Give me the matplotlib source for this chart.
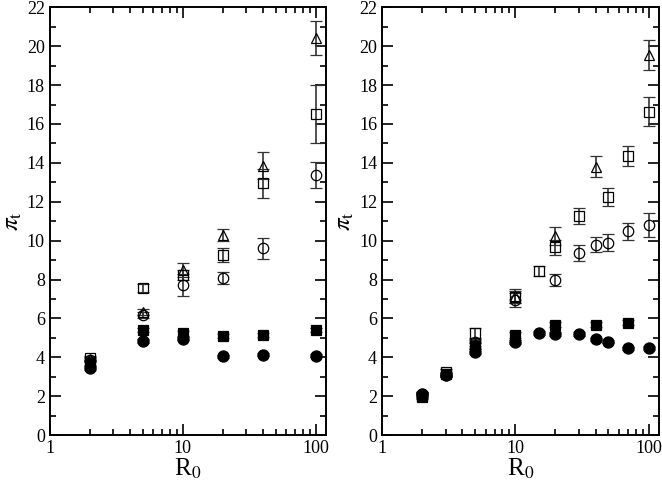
import numpy as np
import matplotlib.pyplot as plt
from matplotlib.ticker import LogLocator, MultipleLocator, NullFormatter

plt.rcParams['font.family'] = ['Liberation Serif', 'DejaVu Serif']
plt.rcParams['mathtext.fontset'] = 'stix'

# ---- left panel data ----
L_x_oc = [2, 5, 10, 20, 40, 100]
L_oc = [3.85, 6.2, 7.72, 8.08, 9.6, 13.37]
L_oc_err = [0.1, 0.15, 0.55, 0.33, 0.55, 0.65]
L_x_os = [2, 5, 10, 20, 40, 100]
L_os = [3.95, 7.55, 8.25, 9.25, 12.95, 16.52]
L_os_err = [0.1, 0.2, 0.25, 0.35, 0.75, 1.5]
L_x_ot = [2, 5, 10, 20, 40, 100]
L_ot = [3.9, 6.35, 8.5, 10.28, 13.85, 20.42]
L_ot_err = [0.1, 0.15, 0.35, 0.3, 0.7, 0.85]
L_x_fc = [2, 5, 10, 20, 40, 100]
L_fc = [3.45, 4.85, 4.97, 4.06, 4.13, 4.08]
L_fc_err = [0.1, 0.1, 0.1, 0.08, 0.08, 0.08]
L_x_fs = [2, 5, 10, 20, 40, 100]
L_fs = [3.7, 5.4, 5.23, 5.09, 5.15, 5.42]
L_fs_err = [0.1, 0.1, 0.12, 0.1, 0.1, 0.1]

# ---- right panel data ----
R_x_oc = [2, 3, 5, 10, 20, 30, 40, 50, 70, 100]
R_oc = [2.1, 3.1, 4.8, 6.95, 7.97, 9.37, 9.8, 9.9, 10.48, 10.8]
R_oc_err = [0.1, 0.1, 0.2, 0.35, 0.3, 0.4, 0.4, 0.45, 0.45, 0.6]
R_x_os = [2, 3, 5, 10, 15, 20, 30, 50, 70, 100]
R_os = [2.0, 3.25, 5.23, 7.1, 8.43, 9.65, 11.26, 12.25, 14.36, 16.62]
R_os_err = [0.1, 0.15, 0.3, 0.3, 0.25, 0.4, 0.4, 0.45, 0.5, 0.75]
R_x_ot = [2, 5, 10, 20, 40, 100]
R_ot = [2.05, 4.7, 7.15, 10.25, 13.8, 19.54]
R_ot_err = [0.1, 0.2, 0.35, 0.45, 0.55, 0.77]
R_x_fc = [2, 3, 5, 10, 15, 20, 30, 40, 50, 70, 100]
R_fc = [2.1, 3.1, 4.3, 4.8, 5.25, 5.19, 5.19, 4.92, 4.8, 4.46, 4.48]
R_fc_err = [0.12, 0.1, 0.12, 0.1, 0.12, 0.1, 0.1, 0.08, 0.08, 0.08, 0.08]
R_x_fs = [2, 3, 5, 10, 20, 40, 70]
R_fs = [1.95, 3.15, 4.6, 5.15, 5.69, 5.69, 5.79]
R_fs_err = [0.1, 0.1, 0.15, 0.15, 0.15, 0.12, 0.15]

fig = plt.figure(figsize=(6.62, 4.83), dpi=100)
ax1 = fig.add_axes([0.075, 0.099, 0.417, 0.886])
ax2 = fig.add_axes([0.577, 0.099, 0.418, 0.886])

ecol = '#333333'


def draw(ax, series):
    for x, y, e, mk, fc, ms in series:
        ax.errorbar(x, y, yerr=e, fmt=mk, mfc=fc, mec='black', mew=0.9,
                    ms=ms, ecolor=ecol, elinewidth=1.2, capsize=4.5,
                    capthick=1.2, ls='none', zorder=3)


draw(ax1, [
    (L_x_fc, L_fc, L_fc_err, 'o', 'black', 8),
    (L_x_fs, L_fs, L_fs_err, 's', 'black', 7.5),
    (L_x_oc, L_oc, L_oc_err, 'o', 'none', 7.5),
    (L_x_os, L_os, L_os_err, 's', 'none', 7),
    (L_x_ot, L_ot, L_ot_err, '^', 'none', 7.5),
])
draw(ax2, [
    (R_x_fc, R_fc, R_fc_err, 'o', 'black', 8),
    (R_x_fs, R_fs, R_fs_err, 's', 'black', 7.5),
    (R_x_oc, R_oc, R_oc_err, 'o', 'none', 7.5),
    (R_x_os, R_os, R_os_err, 's', 'none', 7),
    (R_x_ot, R_ot, R_ot_err, '^', 'none', 7.5),
])

for ax in (ax1, ax2):
    ax.set_xscale('log')
    ax.set_xlim(1, 119)
    ax.set_ylim(0, 22)
    ax.xaxis.set_minor_locator(LogLocator(base=10, subs=np.arange(2, 10), numticks=10))
    ax.xaxis.set_minor_formatter(NullFormatter())
    ax.set_xticks([1, 10, 100])
    ax.set_xticklabels(['1', '10', '100'])
    ax.yaxis.set_major_locator(MultipleLocator(2))
    ax.yaxis.set_minor_locator(MultipleLocator(1))
    ax.tick_params(which='both', direction='in', top=True, right=True,
                   labelsize=13, width=1.2)
    ax.tick_params(which='major', length=8)
    ax.tick_params(which='minor', length=4)
    for s in ax.spines.values():
        s.set_linewidth(1.4)
    ax.set_xlabel(r'R$_0$', fontsize=18, labelpad=0)
    ax.set_ylabel(r'$\pi_{\rm t}$', fontsize=18, labelpad=2)

plt.savefig('out.png', dpi=100)
